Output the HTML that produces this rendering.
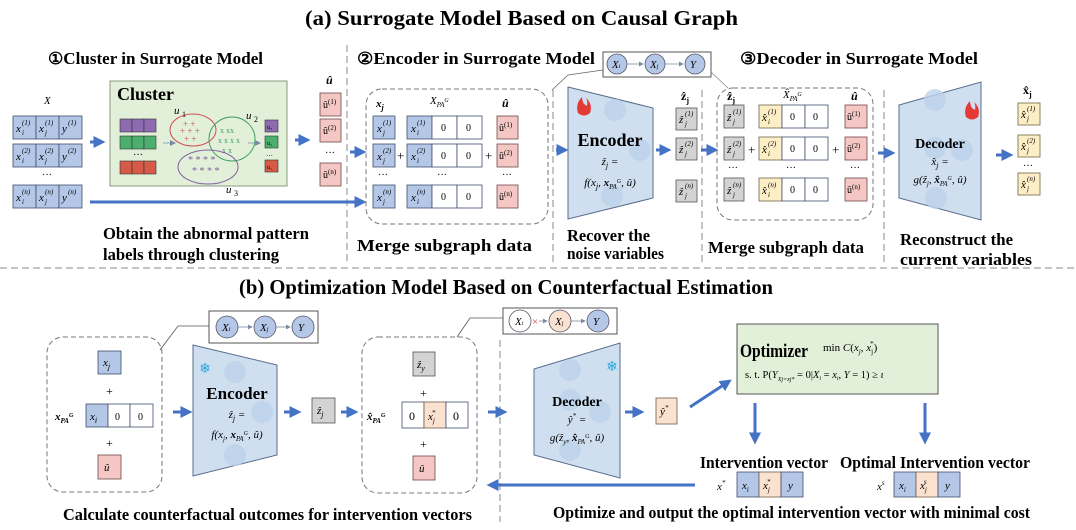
<!DOCTYPE html>
<html><head><meta charset="utf-8"><style>
html,body{margin:0;padding:0;background:#fff}
svg{display:block;font-family:"Liberation Serif",serif}
.t{font-weight:bold;font-size:16.5px}
.m{font-style:italic;font-size:11px}
.s{font-style:italic;font-size:7px}
.n{font-size:10px}
.bl{fill:#b4c7e7;stroke:#3f4f6c;stroke-width:.8}
.wh{fill:#fff;stroke:#3f4f6c;stroke-width:.8}
.pk{fill:#f4c7c4;stroke:#6e4a4a;stroke-width:.8}
.ye{fill:#fdeec6;stroke:#6e6446;stroke-width:.8}
.gr{fill:#d3d3d3;stroke:#555;stroke-width:.8}
.pe{fill:#fbe2d0;stroke:#6e5a4a;stroke-width:.8}
.dsh{fill:none;stroke:#777;stroke-width:1;stroke-dasharray:5 3}
.vd{stroke:#888;stroke-width:1;stroke-dasharray:7 4}
.ar{stroke:#4472c4;stroke-width:3;fill:none;marker-end:url(#ah)}
.trap{fill:#cfdff0;stroke:#5a6e8c;stroke-width:1}
.fn{fill:#bcd2ea;opacity:.8}
</style></head><body>
<svg width="1076" height="530" viewBox="0 0 1076 530" xmlns="http://www.w3.org/2000/svg">
<defs><marker id="ah" markerWidth="4" markerHeight="4" refX="2.5" refY="2" orient="auto" markerUnits="strokeWidth"><path d="M0,0 L4,2 L0,4 z" fill="#4472c4"/></marker>
<marker id="sa" markerWidth="6" markerHeight="6" refX="5" refY="3" orient="auto"><path d="M0,0 L6,3 L0,6 z" fill="#7a8aa0"/></marker></defs>

<text x="305" y="25" font-size="21" font-weight="bold" textLength="433" lengthAdjust="spacingAndGlyphs">(a)  Surrogate Model Based on Causal Graph</text>
<text x="239" y="294" font-size="21" font-weight="bold" textLength="534" lengthAdjust="spacingAndGlyphs">(b)  Optimization Model Based on Counterfactual Estimation</text>
<line x1="0" y1="268" x2="1076" y2="268" class="vd"/>

<text x="48" y="64" class="t" textLength="215" lengthAdjust="spacingAndGlyphs">①Cluster in Surrogate Model</text>
<text x="357" y="64" class="t" textLength="238" lengthAdjust="spacingAndGlyphs">②Encoder in Surrogate Model</text>
<text x="740" y="64" class="t" textLength="238" lengthAdjust="spacingAndGlyphs">③Decoder in Surrogate Model</text>

<line x1="347" y1="45" x2="347" y2="265" class="vd"/>
<line x1="553" y1="90" x2="553" y2="265" class="vd"/>
<line x1="702" y1="90" x2="702" y2="265" class="vd"/>
<line x1="884" y1="90" x2="884" y2="265" class="vd"/>
<line x1="500" y1="340" x2="500" y2="522" class="vd"/>

<text x="44" y="104" class="m" font-size="14">X</text>
<g>
<rect x="13" y="116" width="23" height="23" class="bl"/><rect x="36" y="116" width="23" height="23" class="bl"/><rect x="59" y="116" width="23" height="23" class="bl"/>
<rect x="13" y="144" width="23" height="23" class="bl"/><rect x="36" y="144" width="23" height="23" class="bl"/><rect x="59" y="144" width="23" height="23" class="bl"/>
<rect x="13" y="185" width="23" height="23" class="bl"/><rect x="36" y="185" width="23" height="23" class="bl"/><rect x="59" y="185" width="23" height="23" class="bl"/>
<text x="16" y="132" class="m">x</text><text x="22" y="125" class="s">(1)</text><text x="22" y="135" class="s">i</text>
<text x="39" y="132" class="m">x</text><text x="45" y="125" class="s">(1)</text><text x="45" y="135" class="s">j</text>
<text x="62" y="132" class="m">y</text><text x="68" y="125" class="s">(1)</text>
<text x="16" y="160" class="m">x</text><text x="22" y="153" class="s">(2)</text><text x="22" y="163" class="s">i</text>
<text x="39" y="160" class="m">x</text><text x="45" y="153" class="s">(2)</text><text x="45" y="163" class="s">j</text>
<text x="62" y="160" class="m">y</text><text x="68" y="153" class="s">(2)</text>
<text x="42" y="178" class="n">···</text>
<text x="16" y="201" class="m">x</text><text x="22" y="194" class="s">(n)</text><text x="22" y="204" class="s">i</text>
<text x="39" y="201" class="m">x</text><text x="45" y="194" class="s">(n)</text><text x="45" y="204" class="s">j</text>
<text x="62" y="201" class="m">y</text><text x="68" y="194" class="s">(n)</text>
</g>
<line x1="90" y1="142" x2="101" y2="142" class="ar"/>
<line x1="90" y1="202" x2="362" y2="202" class="ar"/>

<rect x="110" y="81" width="177" height="105" fill="#e2efd9" stroke="#8a9a80" stroke-width="1"/>
<text x="117" y="100" font-size="18" font-weight="bold">Cluster</text>
<rect x="120" y="119" width="12" height="13" fill="#8e6bb0" stroke="#333" stroke-width=".6"/><rect x="132" y="119" width="12" height="13" fill="#8e6bb0" stroke="#333" stroke-width=".6"/><rect x="144" y="119" width="12" height="13" fill="#8e6bb0" stroke="#333" stroke-width=".6"/>
<rect x="120" y="136" width="12" height="13" fill="#4caf6e" stroke="#333" stroke-width=".6"/><rect x="132" y="136" width="12" height="13" fill="#4caf6e" stroke="#333" stroke-width=".6"/><rect x="144" y="136" width="12" height="13" fill="#4caf6e" stroke="#333" stroke-width=".6"/>
<text x="133" y="158" class="n">···</text>
<rect x="120" y="161" width="12" height="13" fill="#d65a48" stroke="#333" stroke-width=".6"/><rect x="132" y="161" width="12" height="13" fill="#d65a48" stroke="#333" stroke-width=".6"/><rect x="144" y="161" width="12" height="13" fill="#d65a48" stroke="#333" stroke-width=".6"/>
<line x1="163" y1="143" x2="175" y2="143" stroke="#8ab" stroke-width="1" marker-end="url(#sa)"/>
<ellipse cx="193" cy="130" rx="23" ry="16" fill="none" stroke="#d05050" stroke-width="1"/>
<text x="180" y="134" font-size="9" fill="#c05050">+ + +</text><text x="183" y="127" font-size="9" fill="#c05050">+ +</text><text x="184" y="142" font-size="9" fill="#c05050">+ +</text>
<ellipse cx="232" cy="139" rx="23" ry="22" fill="none" stroke="#40a060" stroke-width="1"/>
<text x="220" y="133" font-size="8" fill="#40a060">x xx</text><text x="218" y="143" font-size="8" fill="#40a060">x x x x</text><text x="222" y="153" font-size="8" fill="#40a060">x x</text>
<ellipse cx="208" cy="167" rx="30" ry="17" fill="none" stroke="#8060a0" stroke-width="1"/>
<text x="188" y="163" font-size="10" fill="#8060a0">* * *  *</text><text x="192" y="174" font-size="10" fill="#8060a0">*  * * *</text>
<text x="174" y="114" class="m" font-size="13">u</text><text x="182" y="117" font-size="8">1</text>
<text x="246" y="119" class="m" font-size="13">u</text><text x="254" y="122" font-size="8">2</text>
<text x="226" y="193" class="m" font-size="13">u</text><text x="234" y="196" font-size="8">3</text>
<line x1="248" y1="143" x2="260" y2="143" stroke="#8ab" stroke-width="1" marker-end="url(#sa)"/>
<rect x="265" y="120" width="13" height="12" fill="#8e6bb0" stroke="#333" stroke-width=".6"/><text x="267" y="129" font-size="6">u₃</text>
<rect x="265" y="136" width="13" height="12" fill="#4caf6e" stroke="#333" stroke-width=".6"/><text x="267" y="145" font-size="6">u₂</text>
<text x="266" y="158" font-size="7">···</text>
<rect x="265" y="160" width="13" height="12" fill="#d65a48" stroke="#333" stroke-width=".6"/><text x="267" y="169" font-size="6">u₁</text>
<line x1="295" y1="140" x2="306" y2="140" class="ar"/>

<text x="326" y="84" font-size="12" font-weight="bold" font-style="italic">û</text>
<rect x="320" y="93" width="21" height="23" class="pk"/><text x="323" y="108" class="n">û<tspan font-size="7" dy="-4">(1)</tspan></text>
<rect x="320" y="119" width="21" height="23" class="pk"/><text x="323" y="134" class="n">û<tspan font-size="7" dy="-4">(2)</tspan></text>
<text x="325" y="156" class="n">···</text>
<rect x="320" y="163" width="21" height="23" class="pk"/><text x="323" y="178" class="n">û<tspan font-size="7" dy="-4">(n)</tspan></text>

<text x="103" y="239" class="t" textLength="206" lengthAdjust="spacingAndGlyphs">Obtain the abnormal pattern</text>
<text x="103" y="260" class="t" textLength="176" lengthAdjust="spacingAndGlyphs">labels through clustering</text>

<line x1="350" y1="152" x2="362" y2="152" class="ar"/>
<rect x="366" y="89" width="182" height="135" rx="16" class="dsh"/>
<text x="376" y="107" class="m" font-size="12" font-weight="bold">x<tspan font-size="8" dy="3">j</tspan></text>
<text x="430" y="104" class="m" font-size="13">X<tspan font-size="7" dy="3">PA</tspan><tspan font-size="6" dy="-5">G</tspan></text>
<text x="502" y="107" font-size="12" font-weight="bold" font-style="italic">û</text>
<g>
<rect x="373" y="116" width="22" height="23" class="bl"/><rect x="373" y="144" width="22" height="23" class="bl"/><rect x="373" y="185" width="22" height="23" class="bl"/>
<text x="377" y="132" class="m">x</text><text x="383" y="125" class="s">(1)</text><text x="383" y="135" class="s">j</text>
<text x="377" y="160" class="m">x</text><text x="383" y="153" class="s">(2)</text><text x="383" y="163" class="s">j</text>
<text x="377" y="201" class="m">x</text><text x="383" y="194" class="s">(n)</text><text x="383" y="204" class="s">j</text>
<text x="378" y="178" class="n">···</text>
<text x="397" y="160" font-size="13">+</text>
<rect x="407" y="116" width="25" height="23" class="bl"/><rect x="432" y="116" width="25" height="23" class="wh"/><rect x="457" y="116" width="25" height="23" class="wh"/>
<rect x="407" y="144" width="25" height="23" class="bl"/><rect x="432" y="144" width="25" height="23" class="wh"/><rect x="457" y="144" width="25" height="23" class="wh"/>
<rect x="407" y="185" width="25" height="23" class="bl"/><rect x="432" y="185" width="25" height="23" class="wh"/><rect x="457" y="185" width="25" height="23" class="wh"/>
<text x="411" y="132" class="m">x</text><text x="417" y="125" class="s">(1)</text><text x="417" y="135" class="s">i</text>
<text x="411" y="160" class="m">x</text><text x="417" y="153" class="s">(2)</text><text x="417" y="163" class="s">i</text>
<text x="411" y="201" class="m">x</text><text x="417" y="194" class="s">(n)</text><text x="417" y="204" class="s">i</text>
<text x="441" y="131" class="n">0</text><text x="466" y="131" class="n">0</text>
<text x="441" y="159" class="n">0</text><text x="466" y="159" class="n">0</text>
<text x="441" y="200" class="n">0</text><text x="466" y="200" class="n">0</text>
<text x="437" y="178" class="n">···</text>
<text x="485" y="160" font-size="13">+</text>
<rect x="497" y="116" width="21" height="23" class="pk"/><text x="499" y="131" class="n">û<tspan font-size="7" dy="-4">(1)</tspan></text>
<rect x="497" y="144" width="21" height="23" class="pk"/><text x="499" y="159" class="n">û<tspan font-size="7" dy="-4">(2)</tspan></text>
<text x="502" y="178" class="n">···</text>
<rect x="497" y="185" width="21" height="23" class="pk"/><text x="499" y="200" class="n">û<tspan font-size="7" dy="-4">(n)</tspan></text>
</g>
<text x="357" y="251" class="t" textLength="175" lengthAdjust="spacingAndGlyphs">Merge subgraph  data</text>

<rect x="603" y="52" width="108" height="25" fill="#fff" stroke="#555" stroke-width="1"/>
<polyline points="552,90 568,75 603,70" fill="none" stroke="#666" stroke-width=".8"/>
<line x1="711" y1="72" x2="728" y2="88" stroke="#888" stroke-width=".8"/>
<circle cx="617" cy="64" r="10" fill="#b4c7e7" stroke="#556" stroke-width=".8"/><text x="612" y="68" class="m" font-size="10">X<tspan font-size="6">i</tspan></text>
<circle cx="655" cy="64" r="10" fill="#b4c7e7" stroke="#556" stroke-width=".8"/><text x="650" y="68" class="m" font-size="10">X<tspan font-size="6">j</tspan></text>
<circle cx="695" cy="64" r="10" fill="#b4c7e7" stroke="#556" stroke-width=".8"/><text x="690" y="68" class="m" font-size="11">Y</text>
<line x1="627" y1="64" x2="643" y2="64" stroke="#7a8aa0" stroke-width=".8" marker-end="url(#sa)"/>
<line x1="665" y1="64" x2="683" y2="64" stroke="#7a8aa0" stroke-width=".8" marker-end="url(#sa)"/>

<line x1="556" y1="150" x2="564" y2="150" class="ar"/>
<polygon points="568,87 653,108 653,198 568,219" class="trap"/>
<circle cx="615" cy="110" r="11" class="fn"/><circle cx="640" cy="150" r="11" class="fn"/><circle cx="612" cy="196" r="11" class="fn"/>
<path d="M578,113 q-3,-9 4,-16 q0,7 5,9 q1,-5 -1,-8 q7,6 4,15 q-6,5 -12,0z" fill="#e53935"/>
<text x="610" y="146" text-anchor="middle" font-size="18" font-weight="bold">Encoder</text>
<text x="610" y="165" text-anchor="middle" class="m" font-size="14">ẑ<tspan font-size="8" dy="3">j</tspan><tspan dy="-3"> =</tspan></text>
<text x="610" y="186" text-anchor="middle" class="m" font-size="13">f(x<tspan font-size="8" dy="3">j</tspan><tspan dy="-3">, </tspan><tspan font-weight="bold">x</tspan><tspan font-size="7" dy="3">PA</tspan><tspan font-size="6" dy="-6">G</tspan><tspan dy="3">, û)</tspan></text>
<line x1="656" y1="150" x2="667" y2="150" class="ar"/>

<text x="681" y="100" font-size="12" font-weight="bold">ẑ<tspan font-size="8" dy="3">j</tspan></text>
<rect x="676" y="108" width="21" height="22" class="gr"/><text x="679" y="123" class="m">ẑ</text><text x="685" y="116" class="s">(1)</text><text x="685" y="126" class="s">j</text>
<rect x="676" y="138" width="21" height="22" class="gr"/><text x="679" y="153" class="m">ẑ</text><text x="685" y="146" class="s">(2)</text><text x="685" y="156" class="s">j</text>
<rect x="676" y="180" width="21" height="22" class="gr"/><text x="679" y="195" class="m">ẑ</text><text x="685" y="188" class="s">(n)</text><text x="685" y="198" class="s">j</text>
<line x1="701" y1="150" x2="714" y2="150" class="ar"/>

<rect x="717" y="88" width="156" height="132" rx="16" class="dsh"/>
<text x="727" y="100" font-size="12" font-weight="bold">ẑ<tspan font-size="8" dy="3">j</tspan></text>
<text x="783" y="98" class="m" font-size="13">X̂<tspan font-size="7" dy="3">PA</tspan><tspan font-size="6" dy="-5">G</tspan></text>
<text x="851" y="100" font-size="12" font-weight="bold" font-style="italic">û</text>
<g>
<rect x="724" y="105" width="20" height="23" class="gr"/><rect x="724" y="137" width="20" height="23" class="gr"/><rect x="724" y="178" width="20" height="23" class="gr"/>
<text x="727" y="121" class="m">ẑ</text><text x="733" y="114" class="s">(1)</text><text x="733" y="124" class="s">j</text>
<text x="727" y="153" class="m">ẑ</text><text x="733" y="146" class="s">(2)</text><text x="733" y="156" class="s">j</text>
<text x="727" y="194" class="m">ẑ</text><text x="733" y="187" class="s">(n)</text><text x="733" y="197" class="s">j</text>
<text x="728" y="171" class="n">···</text>
<text x="748" y="154" font-size="13">+</text>
<rect x="759" y="105" width="23" height="23" class="ye"/><rect x="782" y="105" width="23" height="23" class="wh"/><rect x="805" y="105" width="23" height="23" class="wh"/>
<rect x="759" y="137" width="23" height="23" class="ye"/><rect x="782" y="137" width="23" height="23" class="wh"/><rect x="805" y="137" width="23" height="23" class="wh"/>
<rect x="759" y="178" width="23" height="23" class="ye"/><rect x="782" y="178" width="23" height="23" class="wh"/><rect x="805" y="178" width="23" height="23" class="wh"/>
<text x="762" y="121" class="m">x̂</text><text x="768" y="114" class="s">(1)</text><text x="768" y="124" class="s">i</text>
<text x="762" y="153" class="m">x̂</text><text x="768" y="146" class="s">(2)</text><text x="768" y="156" class="s">i</text>
<text x="762" y="194" class="m">x̂</text><text x="768" y="187" class="s">(n)</text><text x="768" y="197" class="s">i</text>
<text x="790" y="120" class="n">0</text><text x="813" y="120" class="n">0</text>
<text x="790" y="152" class="n">0</text><text x="813" y="152" class="n">0</text>
<text x="790" y="193" class="n">0</text><text x="813" y="193" class="n">0</text>
<text x="786" y="171" class="n">···</text>
<text x="832" y="154" font-size="13">+</text>
<rect x="845" y="105" width="22" height="23" class="pk"/><text x="847" y="120" class="n">û<tspan font-size="7" dy="-4">(1)</tspan></text>
<rect x="845" y="137" width="22" height="23" class="pk"/><text x="847" y="152" class="n">û<tspan font-size="7" dy="-4">(2)</tspan></text>
<text x="850" y="171" class="n">···</text>
<rect x="845" y="178" width="22" height="23" class="pk"/><text x="847" y="193" class="n">û<tspan font-size="7" dy="-4">(n)</tspan></text>
</g>
<text x="708" y="253" class="t" textLength="156" lengthAdjust="spacingAndGlyphs">Merge subgraph  data</text>
<text x="567" y="241" class="t" textLength="83" lengthAdjust="spacingAndGlyphs">Recover the</text>
<text x="567" y="259" class="t" textLength="97" lengthAdjust="spacingAndGlyphs">noise variables</text>
<line x1="878" y1="153" x2="891" y2="153" class="ar"/>

<polygon points="899,105 981,82 981,220 899,198" class="trap"/>
<circle cx="935" cy="100" r="11" class="fn"/><circle cx="962" cy="150" r="11" class="fn"/><circle cx="936" cy="198" r="11" class="fn"/><circle cx="935" cy="148" r="11" class="fn"/>
<path d="M966,117 q-3,-9 4,-16 q0,7 5,9 q1,-5 -1,-8 q7,6 4,15 q-6,5 -12,0z" fill="#e53935"/>
<text x="940" y="148" text-anchor="middle" font-size="14" font-weight="bold">Decoder</text>
<text x="940" y="165" text-anchor="middle" class="m" font-size="13">x̂<tspan font-size="8" dy="3">j</tspan><tspan dy="-3"> =</tspan></text>
<text x="940" y="183" text-anchor="middle" class="m" font-size="12">g(ẑ<tspan font-size="7" dy="3">j</tspan><tspan dy="-3">, </tspan><tspan font-weight="bold">x̂</tspan><tspan font-size="7" dy="3">PA</tspan><tspan font-size="6" dy="-6">G</tspan><tspan dy="3">, û)</tspan></text>
<text x="900" y="245" class="t" textLength="113" lengthAdjust="spacingAndGlyphs">Reconstruct the</text>
<text x="900" y="265" class="t" textLength="132" lengthAdjust="spacingAndGlyphs">current variables</text>
<line x1="996" y1="155" x2="1009" y2="155" class="ar"/>
<text x="1023" y="94" font-size="12" font-weight="bold">x̂<tspan font-size="8" dy="3">j</tspan></text>
<rect x="1018" y="103" width="22" height="22" class="ye"/><text x="1021" y="118" class="m">x̂</text><text x="1027" y="111" class="s">(1)</text><text x="1027" y="121" class="s">j</text>
<rect x="1018" y="135" width="22" height="22" class="ye"/><text x="1021" y="150" class="m">x̂</text><text x="1027" y="143" class="s">(2)</text><text x="1027" y="153" class="s">j</text>
<text x="1023" y="169" class="n">···</text>
<rect x="1018" y="173" width="22" height="22" class="ye"/><text x="1021" y="188" class="m">x̂</text><text x="1027" y="181" class="s">(n)</text><text x="1027" y="191" class="s">j</text>

<rect x="209" y="311" width="109" height="32" fill="#fff" stroke="#555" stroke-width="1"/>
<polyline points="160,350 178,326 209,326" fill="none" stroke="#555" stroke-width=".8"/>
<circle cx="227" cy="327" r="11" fill="#b4c7e7" stroke="#556" stroke-width=".8"/><text x="222" y="331" class="m" font-size="10">X<tspan font-size="6">i</tspan></text>
<circle cx="265" cy="327" r="11" fill="#b4c7e7" stroke="#556" stroke-width=".8"/><text x="260" y="331" class="m" font-size="10">X<tspan font-size="6">j</tspan></text>
<circle cx="303" cy="327" r="11" fill="#b4c7e7" stroke="#556" stroke-width=".8"/><text x="298" y="331" class="m" font-size="11">Y</text>
<line x1="238" y1="327" x2="252" y2="327" stroke="#7a8aa0" stroke-width=".8" marker-end="url(#sa)"/>
<line x1="276" y1="327" x2="290" y2="327" stroke="#7a8aa0" stroke-width=".8" marker-end="url(#sa)"/>

<rect x="47" y="337" width="115" height="155" rx="16" class="dsh"/>
<rect x="98" y="351" width="23" height="23" class="bl"/><text x="103" y="366" class="m" font-size="12">x<tspan font-size="8" dy="3">j</tspan></text>
<text x="106" y="395" font-size="12">+</text>
<text x="55" y="420" class="m" font-size="12" font-weight="bold">x<tspan font-size="7" dy="3">PA</tspan><tspan font-size="6" dy="-6">G</tspan></text>
<rect x="86" y="404" width="22" height="23" class="bl"/><rect x="108" y="404" width="22" height="23" class="wh"/><rect x="130" y="404" width="23" height="23" class="wh"/>
<text x="90" y="420" class="m" font-size="12">x<tspan font-size="8" dy="3">i</tspan></text><text x="115" y="420" class="n" font-size="12">0</text><text x="138" y="420" class="n" font-size="12">0</text>
<text x="106" y="447" font-size="12">+</text>
<rect x="98" y="455" width="23" height="24" class="pk"/><text x="104" y="471" class="m" font-size="12">û</text>

<line x1="173" y1="412" x2="188" y2="412" class="ar"/>
<polygon points="193,345 277,365 277,455 193,476" class="trap"/>
<circle cx="235" cy="372" r="11" class="fn"/><circle cx="262" cy="412" r="11" class="fn"/><circle cx="235" cy="455" r="11" class="fn"/>
<text x="205" y="373" font-size="14" fill="#29a8e0" text-anchor="middle">❄</text>
<text x="237" y="399" text-anchor="middle" font-size="17" font-weight="bold">Encoder</text>
<text x="237" y="418" text-anchor="middle" class="m" font-size="13">ẑ<tspan font-size="8" dy="3">j</tspan><tspan dy="-3"> =</tspan></text>
<text x="237" y="438" text-anchor="middle" class="m" font-size="12">f(x<tspan font-size="7" dy="3">j</tspan><tspan dy="-3">, </tspan><tspan font-weight="bold">x</tspan><tspan font-size="7" dy="3">PA</tspan><tspan font-size="6" dy="-6">G</tspan><tspan dy="3">, û)</tspan></text>
<line x1="284" y1="412" x2="297" y2="412" class="ar"/>
<rect x="312" y="398" width="23" height="25" class="gr"/><text x="317" y="414" class="m" font-size="12">ẑ<tspan font-size="8" dy="3">j</tspan></text>
<line x1="341" y1="412" x2="354" y2="412" class="ar"/>

<rect x="362" y="337" width="115" height="156" rx="16" class="dsh"/>
<polyline points="457,337 470,318 503,318" fill="none" stroke="#555" stroke-width=".8"/>
<rect x="413" y="352" width="22" height="24" class="gr"/><text x="417" y="368" class="m" font-size="12">ẑ<tspan font-size="8" dy="3">y</tspan></text>
<text x="420" y="397" font-size="12">+</text>
<text x="367" y="420" class="m" font-size="12" font-weight="bold">x̂<tspan font-size="7" dy="3">PA</tspan><tspan font-size="6" dy="-6">G</tspan></text>
<rect x="402" y="402" width="22" height="26" class="wh"/><rect x="424" y="402" width="22" height="26" class="pe"/><rect x="446" y="402" width="22" height="26" class="wh"/>
<text x="409" y="420" font-size="12">0</text><text x="428" y="420" class="m" font-size="12">x<tspan font-size="7" dy="3">j</tspan><tspan font-size="7" dx="-3" dy="-8">*</tspan></text><text x="453" y="420" font-size="12">0</text>
<text x="420" y="448" font-size="12">+</text>
<rect x="413" y="456" width="22" height="24" class="pk"/><text x="419" y="472" class="m" font-size="12">û</text>

<rect x="503" y="308" width="114" height="26" fill="#fff" stroke="#555" stroke-width="1"/>
<circle cx="520" cy="321" r="11" fill="#fff" stroke="#556" stroke-width=".8"/><text x="515" y="325" class="m" font-size="10">X<tspan font-size="6">i</tspan></text>
<text x="532" y="325" font-size="11" fill="#e04040">×</text>
<line x1="539" y1="321" x2="547" y2="321" stroke="#7a8aa0" stroke-width=".8" marker-end="url(#sa)"/>
<circle cx="560" cy="321" r="11" fill="#fbe2d0" stroke="#556" stroke-width=".8"/><text x="555" y="325" class="m" font-size="10">X<tspan font-size="6">j</tspan></text>
<line x1="571" y1="321" x2="585" y2="321" stroke="#7a8aa0" stroke-width=".8" marker-end="url(#sa)"/>
<circle cx="598" cy="321" r="11" fill="#b4c7e7" stroke="#556" stroke-width=".8"/><text x="593" y="325" class="m" font-size="11">Y</text>

<line x1="488" y1="412" x2="503" y2="412" class="ar"/>
<polygon points="534,369 620,343 620,478 534,455" class="trap"/>
<circle cx="570" cy="370" r="11" class="fn"/><circle cx="570" cy="400" r="11" class="fn"/><circle cx="600" cy="412" r="11" class="fn"/><circle cx="570" cy="450" r="11" class="fn"/>
<text x="612" y="371" font-size="14" fill="#29a8e0" text-anchor="middle">❄</text>
<text x="577" y="406" text-anchor="middle" font-size="14" font-weight="bold">Decoder</text>
<text x="577" y="423" text-anchor="middle" class="m" font-size="12">ŷ<tspan font-size="7" dy="-5">*</tspan><tspan dy="5"> =</tspan></text>
<text x="577" y="441" text-anchor="middle" class="m" font-size="11">g(ẑ<tspan font-size="7" dy="3">y</tspan><tspan dy="-3">, </tspan><tspan font-weight="bold">x̂</tspan><tspan font-size="7" dy="3">PA</tspan><tspan font-size="6" dy="-6">G</tspan><tspan dy="3">, û)</tspan></text>
<line x1="625" y1="412" x2="640" y2="412" class="ar"/>
<rect x="656" y="398" width="21" height="26" class="pe"/><text x="660" y="415" class="m" font-size="12">ŷ<tspan font-size="7" dy="-5">*</tspan></text>
<line x1="690" y1="407" x2="728" y2="382" class="ar"/>

<rect x="737" y="324" width="201" height="70" fill="#e2efd9" stroke="#555" stroke-width="1"/>
<text x="740" y="357" font-size="19" font-weight="bold" textLength="68" lengthAdjust="spacingAndGlyphs">Optimizer</text>
<text x="823" y="351" font-size="11">min <tspan font-style="italic">C</tspan>(<tspan font-style="italic">x<tspan font-size="7" dy="3">j</tspan></tspan><tspan dy="-3">, </tspan><tspan font-style="italic">x</tspan><tspan font-size="7" dy="3">j</tspan><tspan font-size="7" dx="-3" dy="-8">*</tspan><tspan dy="5">)</tspan></text>
<text x="745" y="378" font-size="10.5">s. t.  P(<tspan font-style="italic">Y</tspan><tspan font-size="6" font-style="italic" dy="3">Xj=xj*</tspan><tspan dy="-3"> = 0|</tspan><tspan font-style="italic">X<tspan font-size="6" dy="2">i</tspan></tspan><tspan dy="-2"> = </tspan><tspan font-style="italic">x<tspan font-size="6" dy="2">i</tspan></tspan><tspan dy="-2">, </tspan><tspan font-style="italic">Y</tspan> = 1) ≥ <tspan font-style="italic">ι</tspan></text>
<line x1="755" y1="403" x2="755" y2="440" class="ar"/>
<line x1="925" y1="403" x2="925" y2="440" class="ar"/>

<text x="700" y="468" class="t" textLength="128" lengthAdjust="spacingAndGlyphs">Intervention vector</text>
<text x="840" y="468" class="t" textLength="190" lengthAdjust="spacingAndGlyphs">Optimal Intervention vector</text>
<text x="717" y="490" class="m" font-size="11">x<tspan font-size="7" dy="-5">*</tspan></text>
<rect x="737" y="472" width="22" height="25" class="bl"/><rect x="759" y="472" width="22" height="25" class="pe"/><rect x="781" y="472" width="22" height="25" class="bl"/>
<text x="742" y="489" class="m" font-size="12">x<tspan font-size="7" dy="3">i</tspan></text><text x="763" y="489" class="m" font-size="12">x<tspan font-size="7" dy="3">j</tspan><tspan font-size="7" dx="-3" dy="-8">*</tspan></text><text x="788" y="489" class="m" font-size="12">y</text>
<text x="877" y="490" class="m" font-size="12">x<tspan font-size="7" dy="-5">s</tspan></text>
<rect x="894" y="472" width="22" height="25" class="bl"/><rect x="916" y="472" width="22" height="25" class="pe"/><rect x="938" y="472" width="22" height="25" class="bl"/>
<text x="899" y="489" class="m" font-size="12">x<tspan font-size="7" dy="3">i</tspan></text><text x="920" y="489" class="m" font-size="12">x<tspan font-size="7" dy="3">j</tspan><tspan font-size="7" dx="-3" dy="-8">s</tspan></text><text x="945" y="489" class="m" font-size="12">y</text>

<line x1="695" y1="485" x2="491" y2="485" class="ar"/>
<text x="63" y="520" class="t" font-size="16" textLength="409" lengthAdjust="spacingAndGlyphs">Calculate counterfactual outcomes for intervention vectors</text>
<text x="553" y="518" class="t" font-size="16" textLength="477" lengthAdjust="spacingAndGlyphs">Optimize and output the optimal intervention vector with minimal cost</text>
</svg>
</body></html>
